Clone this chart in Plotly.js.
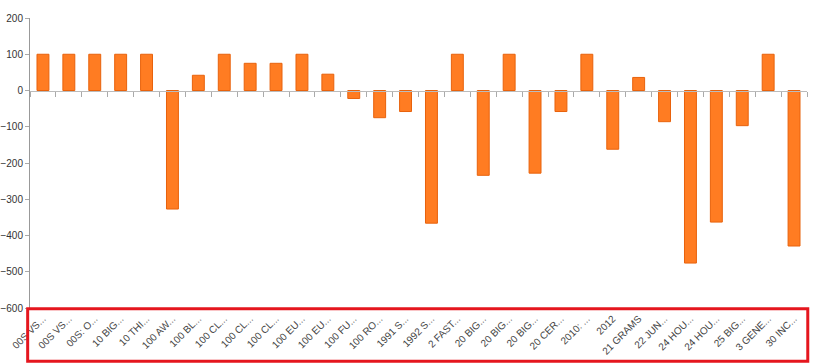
<!DOCTYPE html>
<html>
<head>
<meta charset="utf-8">
<script src="https://cdn.plot.ly/plotly-3.0.1.min.js"></script>
<style>html,body{margin:0;padding:0;background:#fff;}#chart{width:816px;height:364px;}</style>
</head>
<body>
<div id="chart"></div>
<script>
const categories = ["00S VS...", "00S VS...", "00S: O...", "10 BIG...", "10 THI...", "100 AW...", "100 BL...", "100 CL...", "100 CL...", "100 CL...",
  "100 EU...", "100 EU...", "100 FU...", "100 RO...", "1991 S...", "1992 S...", "2 FAST...", "20 BIG...", "20 BIG...", "20 BIG...",
  "20 CER...", "2010: ...", "2012", "21 GRAMS", "22 JUN...", "24 HOU...", "24 HOU...", "25 BIG...", "3 GENE...", "30 INC..."];
const values = [100, 100, 100, 100, 100, -327, 42, 100, 75, 75,
  100, 45, -22, -75, -58, -366, 100, -234, 100, -228,
  -58, 100, -162, 36, -86, -476, -363, -97, 100, -429];
const yTicks = [-600, -500, -400, -300, -200, -100, 0, 100, 200];

const idx = categories.map((_, i) => i);
const boundaries = [-0.5].concat(idx.map(i => i + 0.5));

const bars = {
  type: 'bar', x: idx, y: values, xaxis: 'x', yaxis: 'y',
  marker: {color: '#FF7C22', line: {color: '#E8620C', width: 1}},
  hoverinfo: 'x+y', showlegend: false
};
const dummy = {
  type: 'scatter', mode: 'markers', x: idx, y: idx.map(() => null), xaxis: 'x2', yaxis: 'y',
  showlegend: false, hoverinfo: 'skip'
};

const layout = {
  width: 816, height: 364,
  margin: {l: 30, r: 9, t: 18, b: 55.5},
  paper_bgcolor: '#fff', plot_bgcolor: '#fff',
  bargap: 0.54,
  font: {family: '"Liberation Sans", Arial, sans-serif', color: '#333'},
  xaxis: {
    range: [-0.5, 29.5], tickvals: idx, ticktext: categories, tickangle: -45,
    showline: false, ticks: '', showgrid: false, zeroline: false,
    ticklabelstandoff: 2,
    tickfont: {size: 10, color: '#444'}, automargin: false
  },
  xaxis2: {
    overlaying: 'x', anchor: 'free', position: 0.75, range: [-0.5, 29.5],
    tickvals: boundaries, showticklabels: false, ticks: 'outside', ticklen: 5,
    tickcolor: '#aaa', showline: true, linecolor: '#bbb', linewidth: 1,
    showgrid: false, zeroline: false
  },
  yaxis: {
    range: [-600, 200], tickvals: yTicks, showgrid: false, zeroline: false,
    showline: true, linecolor: '#999', linewidth: 1, ticks: 'outside', ticklen: 4, tickcolor: '#aaa',
    ticklabelstandoff: 0,
    tickfont: {size: 10, color: '#333'}, automargin: false
  },
  shapes: [{
    type: 'rect', xref: 'paper', yref: 'paper', x0: -0.003, x1: 1.001, y0: -0.003, y1: -0.184,
    line: {color: '#E5161E', width: 3}, layer: 'above'
  }]
};

Plotly.newPlot('chart', [bars, dummy], layout, {displayModeBar: false, staticPlot: true});
</script>
</body>
</html>
